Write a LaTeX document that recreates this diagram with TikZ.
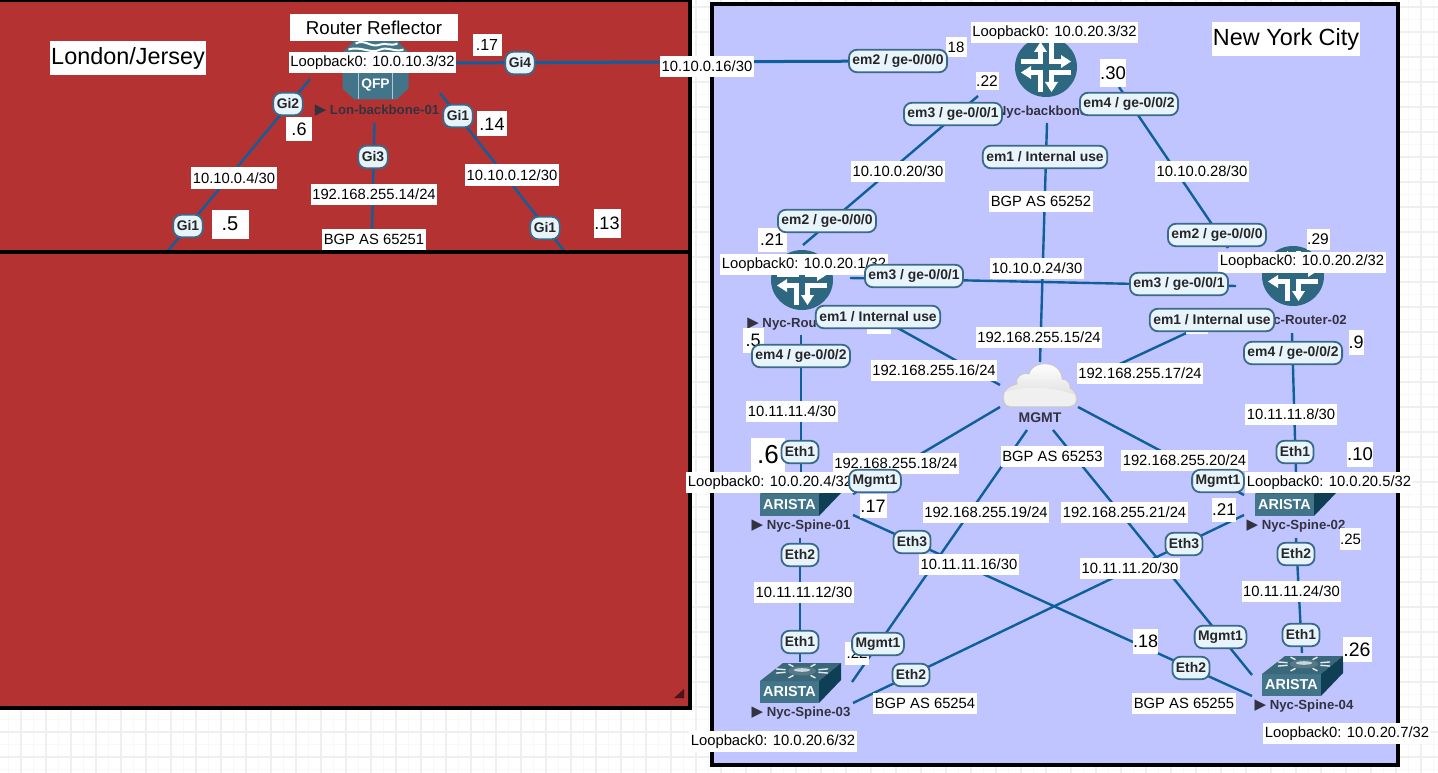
\documentclass[tikz,border=0pt]{standalone}
\usepackage{fontspec}
\setmainfont{Liberation Sans}
\newfontfamily\symbfont{DejaVu Sans}
\usepackage{tikz}
\definecolor{panelred}{HTML}{B53232}
\definecolor{panelblue}{HTML}{C0C4FF}
\definecolor{linkblue}{HTML}{0F5F9C}
\definecolor{pillfill}{HTML}{E8F4FC}
\definecolor{pilledge}{HTML}{3A6A8A}
\definecolor{icondark}{HTML}{2E6880}
\definecolor{iconside}{HTML}{0F3F55}
\definecolor{iconfront}{HTML}{42758A}
\definecolor{labelgrey}{HTML}{333340}
\definecolor{gridmajor}{HTML}{EFEFF2}
\definecolor{gridminor}{HTML}{F8F8FA}
\newcommand{\devmark}{{\symbfont\fontsize{15}{15}\selectfont ▶}}
\tikzset{
	panel/.style={draw=black,line width=4pt},
	link/.style={draw=linkblue,line width=2.4pt},
	netlabel/.style={fill=white,inner xsep=1.5pt,inner ysep=0pt,minimum height=21pt,font=\fontsize{14.8}{16}\selectfont},
	hostlabel/.style={fill=white,inner sep=0pt,font=\fontsize{#1}{#1}\selectfont},
	ifpill/.style={draw=pilledge,fill=pillfill,line width=1.8pt,rounded corners=8pt,minimum height=22.5pt,inner xsep=3.5pt,inner ysep=0pt,text=black!85,font=\bfseries\fontsize{13.9}{15}\selectfont},
	devlabel/.style={inner sep=0pt,text=labelgrey,font=\bfseries\fontsize{13.2}{15}\selectfont},
	junosrouter/.pic={
		\fill[icondark] (0,0) ellipse (31 and 30);
		\foreach \r in {0,90,180,270} {
			\draw[white,line width=5.5pt,rotate=\r] (-25,-5.5) -- (-5.5,-5.5) -- (-5.5,-16);
			\fill[white,rotate=\r] (-12,-15) -- (1,-15) -- (-5.5,-25) -- cycle;
		}
	},
	aristaswitch/.pic={
		\fill[iconfront] (0,18) -- (59,18) -- (59,40) -- (0,40) -- cycle;
		\fill[iconfront!88!black] (0,18) -- (23,0) -- (81,0) -- (59,18) -- cycle;
		\fill[iconside] (59,18) -- (81,0) -- (81,17) -- (59,40) -- cycle;
		\foreach \a in {15,60,120,165,195,240,300,345} {
			\draw[white!85!iconfront,line width=1.4pt,shift={(42,8)}] (\a:17 and 5) -- (\a:27 and 8);
		}
		\fill[iconside!70!white] (42,8) ellipse (14 and 4.5);
		\fill[white!70!iconfront] (42,7) ellipse (8 and 1.8);
		\node[inner sep=0pt,text=white,font=\bfseries\fontsize{14.4}{14}\selectfont] (-brand) at (29.5,29) {ARISTA};
	},
	qfprouter/.pic={
		\fill[iconfront] (-33,-18) -- (-21,-30) -- (21,-30) -- (33,-18) -- (33,18) -- (21,29) -- (-21,29) -- (-33,18) -- cycle;
		\draw[white,line width=2pt] (-20,-27) .. controls (-10,-32) and (-5,-22) .. (5,-26) .. controls (10,-28) and (15,-24) .. (22,-27);
		\draw[white,line width=2pt] (-27,-21) .. controls (-15,-25) and (-5,-16) .. (5,-21) .. controls (12,-24) and (20,-18) .. (28,-21);
		\draw[white!60!iconfront,line width=1pt] (-17,29) -- (-17,1) -- (17,1) -- (17,29);
		\node[inner sep=0pt,text=white,font=\bfseries\fontsize{13.8}{14}\selectfont] (-brand) at (0,15) {QFP};
	},
	mgmtcloud/.pic={
		\path[draw=black!22,line width=0.8pt,top color=white,bottom color=black!16] (20,52) .. controls (14,52) and (13,46) .. (13,42) .. controls (13,36) and (18,31) .. (27,29) .. controls (25,22) and (32,17) .. (39,19) .. controls (41,11) and (50,8) .. (57,9) .. controls (65,9) and (72,16) .. (72,24) .. controls (77,24) and (81,29) .. (80,33) .. controls (84,35) and (87,40) .. (87,44) .. controls (87,50) and (83,52) .. (78,52) -- cycle;
		\fill[black!6] (15,37) .. controls (35,30) and (65,32) .. (85,40) .. controls (87,46) and (85,51) .. (78,51) -- (20,51) .. controls (15,51) and (13,45) .. (15,37) -- cycle;
	},
}
\begin{document}
\begin{tikzpicture}[x=1pt,y=-1pt]
	\useasboundingbox (0,0) rectangle (1438,773);
	\draw[gridminor,line width=1.3pt,step=12.5pt,shift={(-4,7)}] (0,-25) grid (1450,775);
	\draw[gridmajor,line width=1.3pt,step=25pt,shift={(-4,7)}] (0,-25) grid (1450,775);

	\fill[panelblue] (712,4) rectangle (1398,765);
	\draw[panel] (712,4) rectangle (1398,765);
	\fill[panelred] (-3,0.5) rectangle (690,252);
	\draw[panel] (-3,0.5) rectangle (690,252);

	% free ends of the links
	\coordinate (lon-e) at (440,63);
	\coordinate (bb-w) at (899,61);
	\coordinate (lon-sw) at (310,79);
	\coordinate (lost-a) at (167,252);
	\coordinate (lon-s) at (374.5,123);
	\coordinate (lost-b) at (371.5,252);
	\coordinate (lon-se) at (440,93);
	\coordinate (lost-c) at (565,252);
	\coordinate (bb-sw) at (978,96);
	\coordinate (rl-ne) at (803,245);
	\coordinate (bb-s) at (1047,123);
	\coordinate (mgmt-n) at (1040,362);
	\coordinate (bb-se) at (1119,87);
	\coordinate (rr-nw) at (1228,248);
	\coordinate (rl-e) at (850,278);
	\coordinate (rr-w) at (1236,286);
	\coordinate (rl-se) at (860,307);
	\coordinate (mgmt-nw) at (1000,385);
	\coordinate (rr-sw) at (1195,329);
	\coordinate (mgmt-ne) at (1079,383);
	\coordinate (rl-s) at (801,335);
	\coordinate (s1-n) at (801,476);
	\coordinate (rr-s) at (1292,333);
	\coordinate (s2-n) at (1296,473);
	\coordinate (s1-s) at (800,538);
	\coordinate (s3-n) at (800,662);
	\coordinate (s2-s) at (1296,538);
	\coordinate (s4-n) at (1302,653);
	\coordinate (s1-se) at (853,515);
	\coordinate (s4-w) at (1252,696);
	\coordinate (s2-w) at (1244,515);
	\coordinate (s3-e) at (853,703);
	\coordinate (s3-ne) at (852,682);
	\coordinate (mgmt-sw) at (1027,430);
	\coordinate (s4-nw) at (1252,675);
	\coordinate (mgmt-se) at (1053,430);
	\coordinate (s1-ne) at (853,494);
	\coordinate (mgmt-w) at (1000,407);
	\coordinate (s2-nw) at (1244,495);
	\coordinate (mgmt-e) at (1078,407);

	\draw[link,line width=3pt] (lon-e) -- (bb-w);
	\draw[link] (lon-sw) -- (lost-a);
	\draw[link] (lon-s) -- (lost-b);
	\draw[link] (lon-se) -- (lost-c);
	\draw[link] (bb-sw) -- (rl-ne);
	\draw[link] (bb-s) -- (mgmt-n);
	\draw[link] (bb-se) -- (rr-nw);
	\draw[link] (rl-e) -- (rr-w);
	\draw[link] (rl-se) -- (mgmt-nw);
	\draw[link] (rr-sw) -- (mgmt-ne);
	\draw[link] (rl-s) -- (s1-n);
	\draw[link] (rr-s) -- (s2-n);
	\draw[link] (s1-s) -- (s3-n);
	\draw[link] (s2-s) -- (s4-n);
	\draw[link] (s1-se) -- (s4-w);
	\draw[link] (s2-w) -- (s3-e);
	\draw[link] (s3-ne) -- (mgmt-sw);
	\draw[link] (s4-nw) -- (mgmt-se);
	\draw[link] (s1-ne) -- (mgmt-w);
	\draw[link] (s2-nw) -- (mgmt-e);

	\fill[panelred] (-3,252) rectangle (690,708);
	\draw[panel] (-3,252) rectangle (690,708);
	\fill[black!60!panelred] (674,698) -- (684,689) -- (684,698) -- cycle;

	% devices
	\pic (lonbb) at (375.5,70.5) {qfprouter};
	\pic (nycbb) at (1046,67) {junosrouter};
	\pic (nycr1) at (802,280) {junosrouter};
	\pic (nycr2) at (1293,276) {junosrouter};
	\pic (spine1) at (760,476) {aristaswitch};
	\pic (spine2) at (1255,476) {aristaswitch};
	\pic (spine3) at (760,663) {aristaswitch};
	\pic (spine4) at (1262,656) {aristaswitch};
	\pic (mgmt) at (990,355) {mgmtcloud};

	\node[devlabel] (lonbblbl) at (377,111) {\devmark{} Lon-backbone-01};
	\node[devlabel] (nycbblbl) at (1044,112) {\devmark{} Nyc-backbone-01};
	\node[devlabel] (nycr1lbl) at (800,324) {\devmark{} Nyc-Router-01};
	\node[devlabel] (nycr2lbl) at (1294,321) {\devmark{} Nyc-Router-02};
	\node[devlabel] (spine1lbl) at (801,526) {\devmark{} Nyc-Spine-01};
	\node[devlabel] (spine2lbl) at (1296,526) {\devmark{} Nyc-Spine-02};
	\node[devlabel] (spine3lbl) at (801,713) {\devmark{} Nyc-Spine-03};
	\node[devlabel] (spine4lbl) at (1304,706) {\devmark{} Nyc-Spine-04};
	\node[devlabel,font=\bfseries\fontsize{14}{15}\selectfont] (mgmtlbl) at (1040,418) {MGMT};

	% site titles
	\node[hostlabel=23.4,minimum width=156pt,minimum height=34pt] (londontitle) at (128,58) {London/Jersey};
	\node[hostlabel=18.7,minimum width=168pt,minimum height=27pt] (rrtitle) at (374,27.5) {Router Reflector};
	\node[hostlabel=23.4,minimum width=148pt,minimum height=34pt] (nyctitle) at (1286,39) {New York City};

	% addresses
	\node[netlabel] (lo-lon) at (372.5,62.5) {Loopback0: 10.0.10.3/32};
	\node[netlabel] (lo-bb) at (1054.5,32.5) {Loopback0: 10.0.20.3/32};
	\node[netlabel] (lo-r1) at (804,264.5) {Loopback0: 10.0.20.1/32};
	\node[netlabel] (lo-r2) at (1302,262) {Loopback0: 10.0.20.2/32};
	\node[netlabel] (lo-s1) at (770,482.5) {Loopback0: 10.0.20.4/32};
	\node[netlabel] (lo-s2) at (1329,482.5) {Loopback0: 10.0.20.5/32};
	\node[netlabel] (lo-s3) at (773,741.5) {Loopback0: 10.0.20.6/32};
	\node[netlabel] (lo-s4) at (1347,733.5) {Loopback0: 10.0.20.7/32};
	\node[netlabel] (net4) at (234,178) {10.10.0.4/30};
	\node[netlabel] (net12) at (512,175) {10.10.0.12/30};
	\node[netlabel] (net16) at (707,66.5) {10.10.0.16/30};
	\node[netlabel] (net20) at (898,171.5) {10.10.0.20/30};
	\node[netlabel] (net28) at (1202,171.5) {10.10.0.28/30};
	\node[netlabel] (net24) at (1037,268) {10.10.0.24/30};
	\node[netlabel] (sw4) at (792,411.5) {10.11.11.4/30};
	\node[netlabel] (sw8) at (1291,414.5) {10.11.11.8/30};
	\node[netlabel] (sw12) at (804,592) {10.11.11.12/30};
	\node[netlabel] (sw16) at (969,564.5) {10.11.11.16/30};
	\node[netlabel] (sw20) at (1130,568.5) {10.11.11.20/30};
	\node[netlabel] (sw24) at (1291.5,591.5) {10.11.11.24/30};
	\node[netlabel] (mg14) at (374,194) {192.168.255.14/24};
	\node[netlabel] (mg15) at (1039,337) {192.168.255.15/24};
	\node[netlabel] (mg16) at (934,370) {192.168.255.16/24};
	\node[netlabel] (mg17) at (1140,373) {192.168.255.17/24};
	\node[netlabel] (mg18) at (896,463.5) {192.168.255.18/24};
	\node[netlabel] (mg19) at (986,512.5) {192.168.255.19/24};
	\node[netlabel] (mg20) at (1184.5,460) {192.168.255.20/24};
	\node[netlabel] (mg21) at (1124.5,512.5) {192.168.255.21/24};
	\node[netlabel] (as51) at (374,239) {BGP AS 65251};
	\node[netlabel] (as52) at (1041,201) {BGP AS 65252};
	\node[netlabel] (as53) at (1052.5,456.5) {BGP AS 65253};
	\node[netlabel] (as54) at (925,703.5) {BGP AS 65254};
	\node[netlabel] (as55) at (1184,703.5) {BGP AS 65255};

	% host parts
	\node[hostlabel=16,minimum width=29pt,minimum height=22pt] (h17) at (487,45) {.17};
	\node[hostlabel=18,minimum width=26pt,minimum height=24pt] (h6) at (299,129) {.6};
	\node[hostlabel=18,minimum width=30pt,minimum height=25pt] (h14) at (492,124) {.14};
	\node[hostlabel=20,minimum width=37pt,minimum height=29pt] (h5) at (230,224) {.5};
	\node[hostlabel=18,minimum width=27pt,minimum height=29pt] (h13) at (607,223) {.13};
	\node[hostlabel=15,minimum width=21pt,minimum height=20pt] (h18) at (956,47) {18};
	\node[hostlabel=15.5,minimum width=23pt,minimum height=18pt] (h22) at (987,81) {.22};
	\node[hostlabel=18.5,minimum width=26pt,minimum height=28pt] (h30) at (1113,73) {.30};
	\node[hostlabel=17,minimum width=29pt,minimum height=24pt] (h21) at (772,240) {.21};
	\node[hostlabel=15.5,minimum width=23pt,minimum height=21pt] (h29) at (1318,239) {.29};
	\node[hostlabel=18,minimum width=21pt,minimum height=25pt] (h5b) at (753,340) {.5};
	\node[hostlabel=18,minimum width=15pt,minimum height=25pt] (h9) at (1356,342) {.9};
	\node[hostlabel=26,minimum width=34pt,minimum height=34pt] (h6b) at (768,455) {.6};
	\node[hostlabel=18,minimum width=27pt,minimum height=24pt] (h17b) at (873,506) {.17};
	\node[hostlabel=18.5,minimum width=26pt,minimum height=25pt] (h10) at (1360,454.5) {.10};
	\node[hostlabel=17,minimum width=24pt,minimum height=24pt] (h21b) at (1224,510) {.21};
	\node[hostlabel=15,minimum width=21pt,minimum height=22pt] (h25) at (1350.5,539) {.25};
	\node[hostlabel=15,minimum width=24pt,minimum height=23pt] (h22b) at (857,653) {.22};
	\node[hostlabel=19.5,minimum width=29pt,minimum height=25pt] (h26) at (1357,649.5) {.26};
	\node[hostlabel=18,minimum width=25pt,minimum height=25pt] (h18b) at (1145.5,641.5) {.18};
	\node[fill=white,minimum width=24pt,minimum height=14pt,inner sep=0pt] (hidden-a) at (879,327) {};
	\node[fill=white,minimum width=22pt,minimum height=10pt,inner sep=0pt] (hidden-b) at (1197,329) {};

	% interfaces
	\node[ifpill] (gi4) at (520,63) {Gi4};
	\node[ifpill] (gi2) at (288,104) {Gi2};
	\node[ifpill] (gi1a) at (458,116) {Gi1};
	\node[ifpill] (gi3) at (373,157) {Gi3};
	\node[ifpill] (gi1b) at (188,226) {Gi1};
	\node[ifpill] (gi1c) at (545,228) {Gi1};
	\node[ifpill] (bb-em2) at (898,61) {em2 / ge-0/0/0};
	\node[ifpill] (bb-em3) at (953,114) {em3 / ge-0/0/1};
	\node[ifpill] (bb-em4) at (1129,104) {em4 / ge-0/0/2};
	\node[ifpill] (bb-em1) at (1045,157) {em1 / Internal use};
	\node[ifpill] (r1-em2) at (827,221) {em2 / ge-0/0/0};
	\node[ifpill] (r2-em2) at (1217,235) {em2 / ge-0/0/0};
	\node[ifpill] (r1-em3) at (914,276) {em3 / ge-0/0/1};
	\node[ifpill] (r2-em3) at (1179,284) {em3 / ge-0/0/1};
	\node[ifpill] (r1-em1) at (878,317) {em1 / Internal use};
	\node[ifpill] (r2-em1) at (1212,320) {em1 / Internal use};
	\node[ifpill] (r1-em4) at (801,356) {em4 / ge-0/0/2};
	\node[ifpill] (r2-em4) at (1293,353) {em4 / ge-0/0/2};
	\node[ifpill] (s1-eth1) at (800,452) {Eth1};
	\node[ifpill] (s2-eth1) at (1295,452) {Eth1};
	\node[ifpill] (s1-mgmt) at (875,481) {Mgmt1};
	\node[ifpill] (s2-mgmt) at (1218,481) {Mgmt1};
	\node[ifpill] (s1-eth3) at (912,542) {Eth3};
	\node[ifpill] (s2-eth3) at (1184,544) {Eth3};
	\node[ifpill] (s1-eth2) at (800,555) {Eth2};
	\node[ifpill] (s2-eth2) at (1296,554) {Eth2};
	\node[ifpill] (s3-eth1) at (800,642) {Eth1};
	\node[ifpill] (s4-eth1) at (1301,635) {Eth1};
	\node[ifpill] (s3-mgmt) at (878,644) {Mgmt1};
	\node[ifpill] (s4-mgmt) at (1220.5,637) {Mgmt1};
	\node[ifpill] (s3-eth2) at (911,675) {Eth2};
	\node[ifpill] (s4-eth2) at (1191,668) {Eth2};
\end{tikzpicture}
\end{document}
